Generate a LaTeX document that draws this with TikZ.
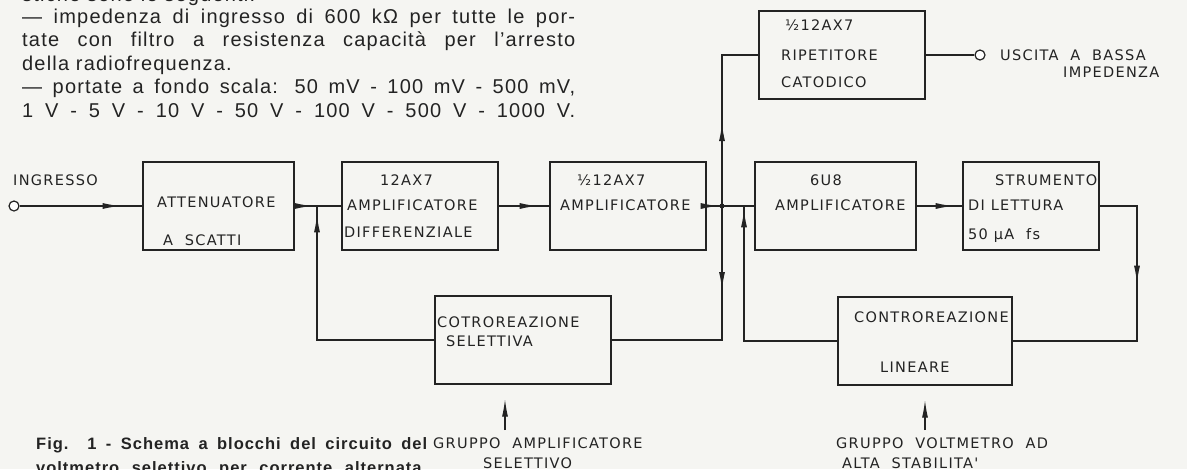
\documentclass[tikz,border=0pt]{standalone}
\usepackage{fontspec}
\setmainfont{Liberation Sans}
\newfontfamily\bodyfont[LetterSpace=6]{Liberation Sans}
\newfontfamily\blockfont[LetterSpace=9]{DejaVu Sans}
\usepackage{tikz}
\usetikzlibrary{calc,arrows.meta,decorations.markings}

\definecolor{paper}{RGB}{245,245,242}
\definecolor{ink}{RGB}{35,35,35}

\tikzset{
	wire/.style={ink, line width=1.4pt},
	block/.style={draw=ink, line width=1.4pt, minimum height=88pt, inner sep=0pt},
	lbl/.style={font=\blockfont\fontsize{14.5}{16}\selectfont, text=ink, inner sep=0pt, anchor=west, text height=10.5pt, text depth=0pt},
	txt/.style={font=\bodyfont\fontsize{20}{23}\selectfont, text=ink, inner sep=0pt, anchor=base west},
	capt/.style={font=\bodyfont\bfseries\fontsize{16.5}{19}\selectfont, text=ink, inner sep=0pt, anchor=base west},
	terminal/.style={circle, draw=ink, fill=white, line width=1.2pt, minimum size=10pt, inner sep=0pt},
	tip/.style={-{Latex[length=18pt,width=6pt]}},
	tipat/.style={postaction={decorate}, decoration={markings, mark=at position #1 with {\arrow{Latex[length=18pt,width=6pt]}}}},
}

\begin{document}
\begin{tikzpicture}[x=1pt,y=-1pt]
	\newcommand{\rowY}{206}
	\newcommand{\colW}{553pt}

	\useasboundingbox (0,0) rectangle (1187,469);
	\fill[paper] (0,0) rectangle (1187,469);
	\clip (0,0) rectangle (1187,469);

	% text of the page
	\node[txt] (par_a) at (22,1) {stiche sono le seguenti:};
	\node[txt] (par_b) at (22,23) {\makebox[\colW][s]{— impedenza di ingresso di 600 kΩ per tutte le por-}};
	\node[txt] (par_c) at (22,46.5) {\makebox[\colW][s]{tate con filtro a resistenza capacità per l’arresto}};
	\node[txt] (par_d) at (22,70) {della radiofrequenza.};
	\node[txt] (par_e) at (22,93.5) {\makebox[\colW][s]{— portate a fondo scala: 50 mV - 100 mV - 500 mV,}};
	\node[txt] (par_f) at (22,117) {\makebox[\colW][s]{1 V - 5 V - 10 V - 50 V - 100 V - 500 V - 1000 V.}};
	\node[capt] (cap_a) at (36,449) {\makebox[391pt][s]{Fig. 1 - Schema a blocchi del circuito del}};
	\node[capt] (cap_b) at (36,473) {\makebox[391pt][s]{voltmetro selettivo per corrente alternata.}};

	% blocks
	\node[block, minimum width=151pt] (att) at (218.5,\rowY) {};
	\node[block, minimum width=156pt] (diff) at (420,\rowY) {};
	\node[block, minimum width=156pt] (amp) at (628,\rowY) {};
	\node[block, minimum width=161pt] (sixu) at (835.5,\rowY) {};
	\node[block, minimum width=136pt] (strum) at (1031,\rowY) {};
	\node[block, minimum width=166pt] (rip) at (842,55) {};
	\node[block, minimum width=176pt] (sel) at (523,340) {};
	\node[block, minimum width=174pt] (lin) at (925,341) {};

	\node[terminal] (in) at (14,\rowY) {};
	\node[terminal] (out) at (980,55) {};

	% labels
	\node[lbl] (in_lbl) at (13,180) {INGRESSO};
	\node[lbl] (att_a) at (157,202) {ATTENUATORE};
	\node[lbl] (att_b) at (163,240) {A\ \ SCATTI};
	\node[lbl] (diff_a) at (380,180) {12AX7};
	\node[lbl] (diff_b) at (347,205) {AMPLIFICATORE};
	\node[lbl] (diff_c) at (344,232) {DIFFERENZIALE};
	\node[lbl] (amp_a) at (577,180) {½12AX7};
	\node[lbl] (amp_b) at (560,205) {AMPLIFICATORE};
	\node[lbl] (sixu_a) at (810,180) {6U8};
	\node[lbl] (sixu_b) at (775,205) {AMPLIFICATORE};
	\node[lbl] (strum_a) at (995,180) {STRUMENTO};
	\node[lbl] (strum_b) at (968,205) {DI LETTURA};
	\node[lbl] (strum_c) at (968,234) {50 μA\ \ fs};
	\node[lbl] (rip_a) at (785,25) {½12AX7};
	\node[lbl] (rip_b) at (781,55) {RIPETITORE};
	\node[lbl] (rip_c) at (781,82) {CATODICO};
	\node[lbl] (out_a) at (1000,55) {USCITA\ \ A\ \ BASSA};
	\node[lbl] (out_b) at (1063,72) {IMPEDENZA};
	\node[lbl] (sel_a) at (437,322) {COTROREAZIONE};
	\node[lbl] (sel_b) at (446,341) {SELETTIVA};
	\node[lbl] (lin_a) at (854,317) {CONTROREAZIONE};
	\node[lbl] (lin_b) at (880,367) {LINEARE};
	\node[lbl] (grp_sel_a) at (433,443) {GRUPPO\ \ AMPLIFICATORE};
	\node[lbl] (grp_sel_b) at (483,463) {SELETTIVO};
	\node[lbl] (grp_lin_a) at (836,443) {GRUPPO\ \ VOLTMETRO\ \ AD};
	\node[lbl] (grp_lin_b) at (842,463) {ALTA\ \ STABILITA'};

	\coordinate (split) at (722,\rowY);
	\coordinate (fb_in) at (317,\rowY);
	\coordinate (fb_lin) at (744,\rowY);
	\coordinate (ret_r) at (1137,341);
	\coordinate (sel_feed) at (505,430);
	\coordinate (lin_feed) at (925,430);

	% main chain
	\draw[wire, tipat=101pt] (in) -- (att);
	\draw[wire, tipat=18pt] (att) -- (fb_in);
	\draw[wire] (fb_in) -- (diff);
	\draw[wire, tipat=39pt] (diff) -- (amp);
	\draw[wire, tipat=12pt] (amp) -- (split);
	\draw[wire] (split) -- (sixu);
	\draw[wire, tipat=37pt] (sixu) -- (strum);
	\fill[ink] (split) circle (2.5pt);

	% branches and feedback
	\draw[wire, tipat=83pt] (split) |- (rip);
	\draw[wire] (rip) -- (out);
	\draw[wire, tipat=84pt] (split) |- (sel);
	\draw[wire, tipat=243pt] (sel) -| (fb_in);
	\draw[wire, tipat=115pt] (strum) -| (ret_r) -- (lin);
	\draw[wire, tipat=225pt] (lin) -| (fb_lin);

	% inputs from below
	\draw[wire, tip, shorten >=14pt] (sel_feed) -- (sel_feed |- sel.south);
	\draw[wire, tip, shorten >=14pt] (lin_feed) -- (lin_feed |- lin.south);
\end{tikzpicture}
\end{document}
